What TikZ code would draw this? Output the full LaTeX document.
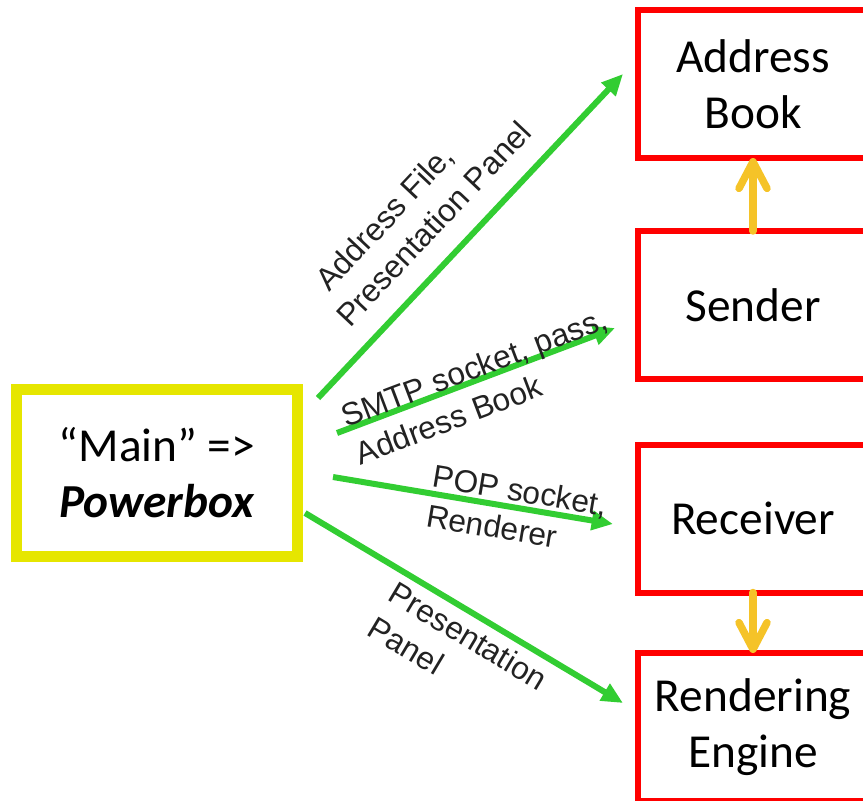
\documentclass[tikz,border=0pt]{standalone}
\usepackage{fontspec}
\setmainfont{Carlito}
\newfontfamily\tagfont{Liberation Sans}
\usetikzlibrary{positioning, calc, arrows.meta}

\definecolor{partred}{RGB}{255,0,0}
\definecolor{hubyellow}{RGB}{230,230,0}
\definecolor{flowgreen}{RGB}{50,205,50}
\definecolor{linkgold}{RGB}{245,195,40}
\definecolor{taggray}{RGB}{34,34,34}

\tikzset{
  part/.style={draw=partred, line width=4.5pt, outer sep=0pt,
    minimum width=172.5pt, minimum height=111pt, align=center,
    font=\fontsize{35.5}{42}\selectfont},
  hub/.style={draw=hubyellow, line width=8.25pt, outer sep=0pt,
    minimum width=210.4pt, minimum height=125.6pt, align=center,
    font=\fontsize{35.5}{42}\selectfont},
  flow/.style={draw=flowgreen, line width=4.5pt, -{Triangle[length=16pt,width=14pt]}},
  link/.style={draw=linkgold, line width=5.6pt, line cap=round,
    -{Straight Barb[length=20pt,width=21pt,round]}},
  tag/.style={font=\tagfont\fontsize{23.75}{30}\selectfont, text=taggray,
    align=left, inner sep=0pt}
}

\begin{document}
\begin{tikzpicture}[x=0.75pt, y=-0.75pt]
        \useasboundingbox (0,0) rectangle (863,800);

        % Components on the right
        \node[part] (book) at (753,84) {Address\\Book};
        \node[part] (sender) at (753,305) {Sender};
        \node[part] (receiver) at (753,518.5) {Receiver};
        \node[part] (engine) at (753,727) {Rendering\\Engine};

        % Powerbox on the left
        \node[hub] (main) at (157,472.75) {“Main” =>\\\textbf{\textit{Powerbox}}};

        % What the powerbox hands out
        \draw[flow] ($(main.east)+(20.75,-74.75)$) -- ($(book.west)+(-15,-10)$);
        \draw[flow] ($(main.east)+(39.75,-39.75)$) -- ($(sender.west)+(-23,23)$);
        \draw[flow] ($(main.east)+(35.75,4.25)$) -- ($(receiver.west)+(-25,5.5)$);
        \draw[flow] ($(main.east)+(7.75,40.25)$) -- ($(engine.west)+(-15,-24)$);

        % Links between components
        \draw[link] (sender.north) -- (book.south);
        \draw[link] (receiver.south) -- (engine.north);

        % Labels along the arrows
        \node[tag, rotate=46.7] (tbook) at (419,210) {\hspace*{9pt}Address File,\\Presentation Panel};
        \node[tag, rotate=20.7] (tsender) at (481,386) {SMTP socket, pass,\\Address Book};
        \node[tag, rotate=-9.5] (treceiver) at (517,510) {POP socket,\\Renderer};
        \node[tag, rotate=-30.9] (tengine) at (458,653) {Presentation\\Panel};
    \end{tikzpicture}
\end{document}
